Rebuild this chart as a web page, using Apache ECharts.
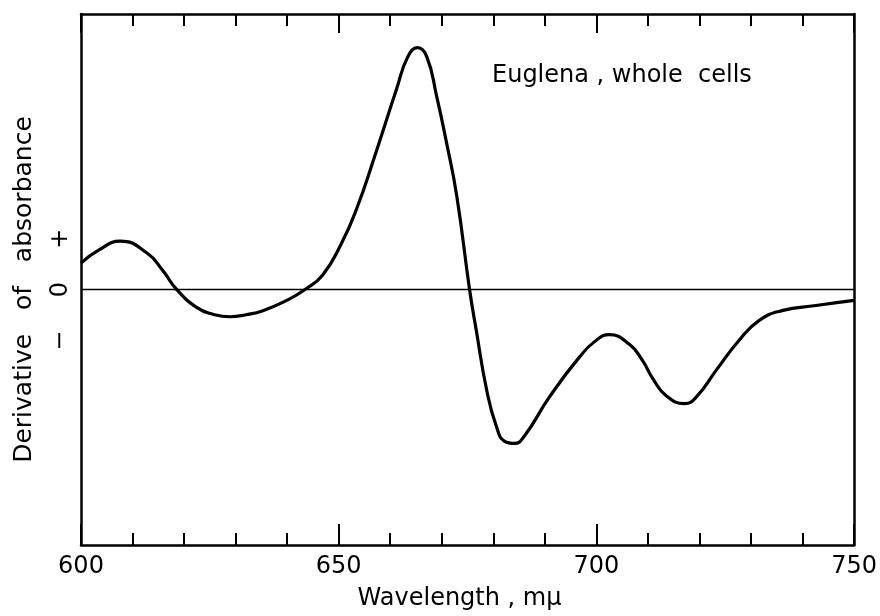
<!DOCTYPE html>
<html><head><meta charset="utf-8">
<script src="https://cdn.jsdelivr.net/npm/echarts@6/dist/echarts.min.js"></script>
<style>html,body{margin:0;padding:0;background:#fff}#c{width:880px;height:616px}</style>
</head><body><div id="c"></div>
<script>
const wavelengths = [600,603.5,607.6,612.8,615.9,618.6,622.5,625.6,628.9,632,635.3,639.9,643.4,646.9,650.5,653.5,657,661.2,663.4,665.3,667.1,669,670.9,672.9,675.4,676.7,678.7,680.6,682.2,684.1,686,690.9,696.7,700,702.5,706.4,708.9,711,713.6,717.1,719.4,723.3,727.7,731.6,736,742.6,750];
const derivative = [0.52,0.78,0.95,0.72,0.37,0.0,-0.35,-0.48,-0.53,-0.49,-0.41,-0.21,0.0,0.29,0.9,1.59,2.62,3.92,4.56,4.74,4.56,3.79,2.89,1.84,0.0,-0.8,-1.96,-2.68,-2.97,-3.01,-2.87,-2.1,-1.32,-0.99,-0.88,-1.07,-1.38,-1.75,-2.08,-2.23,-2.1,-1.57,-0.99,-0.6,-0.41,-0.31,-0.21];
const yTickLabels = {'-1':'\u2212','0':'0','1':'+'};
const annotation = 'Euglena , whole  cells';
const xTitle = 'Wavelength , m\u03bc';
const yTitle = 'Derivative   of   absorbance';

const FONT = '"DejaVu Sans"';
const chart = echarts.init(document.getElementById('c'), null, {renderer:'canvas'});
const axisLine = {show:true, onZero:false, lineStyle:{color:'#000', width:2.5}};
chart.setOption({
  animation:false,
  grid:{left:81, right:25, top:14, bottom:67},
  xAxis:[{
    type:'value', min:600, max:750, interval:50, position:'bottom',
    axisLine:axisLine,
    axisTick:{show:true, inside:true, length:21, lineStyle:{color:'#000', width:2}},
    minorTick:{show:true, splitNumber:5, length:12, lineStyle:{color:'#000', width:2}},
    splitLine:{show:false},
    axisLabel:{color:'#000', fontSize:24, fontFamily:FONT, margin:10},
    name:xTitle, nameLocation:'middle', nameGap:42,
    nameTextStyle:{color:'#000', fontSize:24, fontFamily:FONT, padding:[0,16,0,0]}
  },{
    type:'value', min:600, max:750, interval:50, position:'top',
    axisLine:axisLine,
    axisTick:{show:true, inside:true, length:19, lineStyle:{color:'#000', width:2}},
    minorTick:{show:true, splitNumber:5, length:12, lineStyle:{color:'#000', width:2}},
    splitLine:{show:false}, axisLabel:{show:false}
  }],
  yAxis:[{
    type:'value', min:-5, max:5.4, interval:1, position:'left',
    axisLine:axisLine, axisTick:{show:false}, splitLine:{show:false},
    axisLabel:{color:'#000', fontSize:24, fontFamily:FONT, rotate:90, margin:8,
      formatter:v=>yTickLabels[String(Math.round(v))]||''},
    name:yTitle, nameLocation:'middle', nameGap:44, nameRotate:90,
    nameTextStyle:{color:'#000', fontSize:25, fontFamily:FONT, padding:[0,20,0,0]}
  },{
    type:'value', min:-5, max:5.4, interval:1, position:'right',
    axisLine:axisLine, axisTick:{show:false}, splitLine:{show:false}, axisLabel:{show:false}
  }],
  graphic:[{type:'text', left:492, top:64, style:{text:annotation, fill:'#000', font:'24px '+FONT}}],
  series:[{
    type:'line', xAxisIndex:0, yAxisIndex:0, smooth:0.5, showSymbol:false,
    data:wavelengths.map((w,i)=>[w,derivative[i]]),
    lineStyle:{color:'#000', width:3.2},
    markLine:{silent:true, symbol:'none', label:{show:false},
      lineStyle:{color:'#000', width:1.3, type:'solid'}, data:[{yAxis:0}]}
  }]
});
</script></body></html>
